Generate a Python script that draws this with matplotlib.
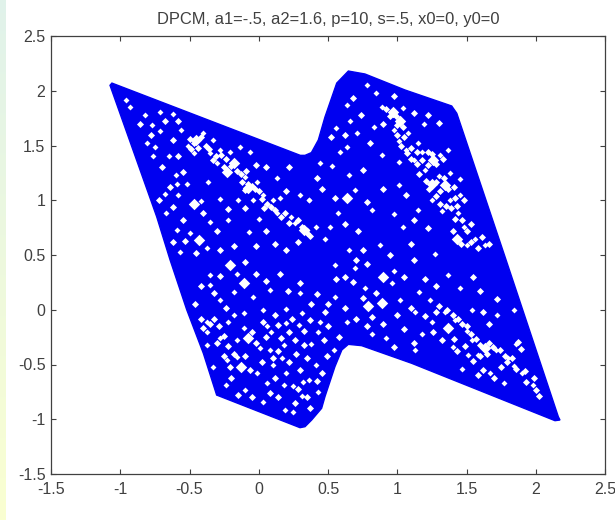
import numpy as np
import matplotlib
matplotlib.use("Agg")
import matplotlib.pyplot as plt
from matplotlib.patches import Polygon

plt.rcParams['font.family'] = ['Liberation Sans', 'DejaVu Sans']

title = "DPCM, a1=-.5, a2=1.6, p=10, s=.5, x0=0, y0=0"
tick_values = [-1.5, -1, -0.5, 0, 0.5, 1, 1.5, 2, 2.5]
tick_labels = ['-1.5', '-1', '-0.5', '0', '0.5', '1', '1.5', '2', '2.5']

# Outline of the solid point cloud
outline_x = [-1.06, 0.30, 0.334, 0.38, 0.43, 0.478, 0.563, 0.647, 0.767, 1.056, 1.393, 1.43,
             1.778, 2.163, 2.175, 2.139, 1.104, 0.743, 0.647, 0.60, 0.55, 0.478, 0.454,
             0.382, 0.334, 0.298, -0.304, -0.40, -0.52, -0.64, -0.737, -1.074]
outline_y = [2.07, 1.41, 1.41, 1.435, 1.55, 1.76, 2.07, 2.18, 2.153, 2.007, 1.861, 1.794,
             0.484, -0.977, -1.007, -1.013, -0.489, -0.328, -0.316, -0.367, -0.52, -0.794, -0.90,
             -1.007, -1.068, -1.077, -0.779, -0.398, 0.0, 0.454, 0.85, 2.05]

# Larger gaps in the cloud
gap_large_x = [-0.45, -0.18, -0.23, -0.075, 0.33, -0.47, -0.435, 0.97, 1.02, 1.26, 1.25, 1.345,
               1.43, 0.635, -0.21, -0.11, -0.075, -0.125, 0.90, 0.79, 0.89, 1.37, 1.63]
gap_large_y = [1.55, 1.34, 1.26, 1.11, 0.73, 0.97, 0.64, 1.81, 1.72, 1.37, 1.15, 1.14,
               0.65, 1.02, 0.41, 0.24, -0.26, -0.52, 0.30, 0.03, 0.06, -0.17, -0.35]

# Small gaps in the cloud
gap_small_x = [-0.96, -0.93, -0.82, -0.77, -0.71, -0.71, -0.62, -0.56, -0.51, -0.47, -0.40, -0.33,
               -0.35, -0.28, -0.21, -0.30, -0.135, -0.06, -0.10, -0.015, 0.03, -0.04, 0.105, 0.15,
               0.13, 0.23, 0.26, -0.81, -0.75, -0.76, -0.65, -0.60, -0.59, -0.52, -0.68, -0.58,
               -0.42, -0.28, -0.15, -0.35, -0.67, -0.50, -0.375, -0.59, -0.57, 0.0, -0.07, -0.22,
               -0.37, 0.13, 0.30, 0.36,
               0.78, 0.85, 0.635, 0.56, 0.66, 0.71, 0.83, 0.89, 1.04, 0.98, 1.08, 1.01, 1.06,
               1.15, 1.18, 1.12, 1.31, 1.37, 1.20, 1.38, 1.45, 1.30, 1.45, 1.38, 1.25, 1.32, 1.44,
               1.48, 1.56, 1.50, 1.63, 0.59, 0.635, 0.65, 0.695, 0.575, 1.01, 1.01, 0.89, 0.98,
               0.875, 0.41, 0.345, 0.515, 0.48, 1.15, 1.04, 1.19, 1.27, 0.65, 0.815, 0.36, 0.44, 0.53,
               -0.16, -0.35, -0.35, -0.18, -0.04, 0.08, -0.28, -0.375, -0.375, -0.22, -0.11, -0.18,
               -0.11, -0.16, -0.28, -0.375, 0.06, 0.09, 0.18, 0.03, 0.20, 0.31, 0.29, 0.20, -0.23,
               -0.16, -0.015, 0.10, 0.17, 0.20, 0.06, 0.18, 0.25, 0.31, 0.03, -0.10, -0.24, 0.19,
               0.25, 0.32, -0.33, 0.01, 0.08, 0.30,
               0.55, 0.695, 0.96, 0.765, 0.55, 0.44, 0.43, 0.38, 0.54, 0.41, 0.36, 0.43, 0.635,
               0.92, 0.815, 1.13, 1.02, 1.16, 1.13, 1.24, 1.345, 1.42, 1.50, 1.54, 1.71, 1.80,
               1.84, 1.90, 1.67, 1.585, 1.51, 1.40, 1.54, 1.72, 1.86, 1.98, 1.77, 1.25, 1.37,
               0.98, 1.45, 1.84, 1.47, 1.18]
gap_small_y = [1.92, 1.85, 1.78, 1.69, 1.63, 1.81, 1.79, 1.64, 1.50, 1.43, 1.61, 1.55,
               1.43, 1.46, 1.44, 1.34, 1.49, 1.44, 1.21, 1.17, 1.05, 1.00, 1.00, 1.02,
               0.88, 0.85, 0.79, 1.52, 1.49, 1.40, 1.40, 1.23, 1.15, 1.15, 1.06, 1.05,
               0.99, 1.01, 1.00, 0.80, 0.88, 0.70, 0.56, 0.73, 0.53, 0.83, 0.71, 0.82,
               1.17, 1.20, 1.05, 1.00,
               2.05, 1.98, 1.87, 1.66, 1.72, 1.61, 1.67, 1.85, 1.84, 1.64, 1.61, 1.54, 1.46,
               1.52, 1.44, 1.37, 1.41, 1.46, 1.28, 1.25, 1.19, 1.22, 1.05, 1.00, 1.00, 0.90, 0.88,
               0.76, 0.65, 0.59, 0.59, 1.44, 1.49, 1.23, 1.09, 0.88, 1.14, 1.35, 1.41, 0.87,
               0.59, 0.76, 0.73, 0.76, 0.65, 0.91, 0.76, 1.70, 0.51, 0.55, 0.91, 1.00, 1.34, 1.31,
               0.33, 0.32, 0.23, 0.16, 0.12, 0.18, 0.09, -0.11, -0.20, -0.11, -0.03, -0.05,
               -0.17, -0.28, -0.26, -0.32, -0.15, -0.20, -0.32, 0.00, 0.01, -0.03, -0.14, -0.12, -0.46,
               -0.43, -0.58, -0.50, -0.44, -0.58, -0.67, -0.69, -0.70, -0.79, -0.84, -0.73, -0.69, -0.92,
               -0.93, -0.66, -0.52, -0.35, -0.37, 0.15,
               0.41, 0.38, 0.24, 0.20, 0.12, -0.11, -0.20, -0.31, -0.37, -0.50, -0.64, -0.75, -0.11,
               -0.26, -0.22, -0.37, 0.09, 0.16, -0.02, 0.09, -0.02, -0.09, -0.19, -0.28, -0.37, -0.44,
               -0.51, -0.58, -0.58, -0.41, -0.41, -0.34, 0.00, -0.05, -0.31, -0.69, -0.67, -0.11, 0.32,
               0.35, 0.20, 0.00, -0.54, -0.22]

# Further gaps: the diagonal bands and scattered specks
gap_band_x = [-0.50, -0.47, -0.44, -0.49, -0.42, -0.38, -0.36, -0.31, -0.33, -0.27, -0.24, -0.20, -0.25,
              -0.16, -0.13, -0.09, -0.12, -0.08, -0.05, -0.10, -0.03, 0.0, 0.02, 0.06, 0.09, 0.04, 0.12,
              0.16, 0.19, 0.22, 0.28, 0.31, 0.35, 0.37,
              0.92, 0.95, 0.99, 1.0, 1.04, 1.0, 1.05, 1.03, 1.07, 1.10, 1.14, 1.10, 1.14, 1.18, 1.22,
              1.25, 1.22, 1.28, 1.33, 1.16, 1.21, 1.23, 1.28, 1.31, 1.34, 1.37, 1.41, 1.42, 1.28, 1.31,
              1.35, 1.39, 1.43, 1.48, 1.42, 1.47, 1.50, 1.53, 1.40, 1.46, 1.53, 1.58, 1.61, 1.66,
              1.30, 1.36, 1.40, 1.44, 1.47, 1.50, 1.53, 1.57, 1.60, 1.66, 1.69, 1.74, 1.78, 1.83, 1.79,
              1.86, 1.92, 1.75, 1.65, 1.60, 1.58, 1.62, 1.70, 1.93, 2.0, 1.99, 2.02, 1.87, 1.89, 1.41,
              1.43, 1.49, 1.55,
              -0.42, -0.35, -0.32, -0.40, -0.29, -0.25, -0.30, -0.22, -0.18, -0.25, -0.21, -0.10, -0.05,
              -0.02, 0.03, 0.05, 0.12, 0.14, 0.16, 0.22, 0.24, 0.26, 0.33, 0.37, 0.14, 0.10, 0.22, 0.27,
              0.33, 0.30, 0.35, 0.12, 0.02, -0.06, -0.20, -0.15, -0.05, 0.08, 0.14, 0.26, 0.28, 0.35,
              0.37, 0.42, 0.46, 0.49, 0.47, 0.50, 0.48, 0.38, 0.42, 0.30, 0.21, 0.15, 0.05, -0.02,
              -0.10, -0.28, -0.32, -0.42, -0.46, -0.24,
              0.70, 0.78, 0.62, 0.68, 0.75, 0.62, 0.70, 0.82, 0.90, 1.0, 1.05, 1.10, 1.20, 1.28, 1.26,
              1.32, 1.12, 0.98, 0.78, 0.85, 1.05, 1.20, 1.28, 1.55, 1.60, 1.72, 1.66, 1.62, 0.56, 0.50,
              0.58, 0.75, 0.95, 1.10, 1.22, 1.12, 0.72, 0.62, 0.55, 0.46, 0.42, 0.75, 0.90, 0.78, 1.06,
              1.12, 0.52, 0.62, 0.74, 0.80, 0.90, 1.22, 1.30, 1.12, 0.68, 0.98,
              -0.86, -0.68, -0.58, -0.78, -0.62, -0.58, -0.70, -0.64, -0.55, -0.72, -0.62, -0.55, -0.40,
              -0.22, -0.10, -0.30, -0.18, -0.28, -0.45, -0.53, -0.62, 0.05, 0.12, 0.20, 0.28, -0.02,
              0.20, 0.22, 0.05, -0.02]
gap_band_y = [1.56, 1.52, 1.48, 1.47, 1.58, 1.50, 1.47, 1.40, 1.37, 1.41, 1.38, 1.31, 1.30,
              1.27, 1.24, 1.27, 1.17, 1.15, 1.13, 1.09, 1.10, 1.08, 1.01, 0.97, 0.94, 0.93, 0.91,
              0.85, 0.88, 0.79, 0.82, 0.76, 0.70, 0.67,
              1.83, 1.77, 1.77, 1.69, 1.67, 1.60, 1.58, 1.50, 1.43, 1.48, 1.44, 1.38, 1.33, 1.37, 1.44,
              1.42, 1.32, 1.33, 1.38, 1.24, 1.18, 1.10, 1.17, 1.08, 1.20, 1.10, 1.12, 1.02, 1.04, 0.97,
              0.95, 0.93, 0.95, 1.00, 0.83, 0.82, 0.72, 0.78, 0.72, 0.60, 0.62, 0.56, 0.66, 0.60,
              0.03, 0.0, -0.05, -0.08, -0.13, -0.15, -0.22, -0.27, -0.32, -0.30, -0.34, -0.37, -0.42, -0.44, -0.48,
              -0.54, -0.56, -0.52, -0.40, -0.42, -0.60, -0.55, -0.62, -0.66, -0.73, -0.62, -0.79, -0.29, -0.36, -0.27,
              -0.38, -0.33, -0.47,
              -0.08, -0.13, -0.08, -0.17, -0.15, -0.24, -0.30, -0.33, -0.40, -0.42, -0.52, -0.42, -0.20,
              -0.30, -0.11, -0.25, -0.05, -0.14, -0.26, -0.20, -0.08, -0.28, -0.19, -0.09, -0.38, -0.44, -0.48, -0.40,
              -0.32, -0.55, -0.44, -0.62, -0.48, -0.55, -0.62, -0.78, -0.80, -0.76, -0.80, -0.85, -0.72, -0.80,
              -0.90, -0.65, -0.58, -0.42, -0.28, -0.15, -0.02, 0.05, 0.14, 0.24, 0.17, 0.33, 0.26, 0.33,
              0.44, 0.31, 0.15, 0.22, 0.05, 0.02,
              0.45, 0.42, 0.30, 0.25, 0.11, 0.02, -0.08, -0.07, -0.13, -0.05, -0.18, 0.02, -0.06, -0.02, -0.20,
              -0.28, -0.30, -0.34, -0.15, 0.15, 0.30, 0.28, 0.22, 0.30, 0.17, 0.10, -0.13, -0.02, 0.28, 0.05,
              -0.25, 0.55, 0.50, 0.60, 0.75, 0.45, 0.72, 0.78, 1.02, 1.10, 1.20, 1.28, 1.10, 0.98, 1.05,
              0.82, 1.58, 1.60, 1.78, 1.52, 1.70, 1.78, 1.71, 1.80, 1.93, 1.95,
              1.70, 1.72, 1.72, 1.60, 1.55, 1.40, 1.30, 1.12, 1.26, 1.00, 0.94, 0.82, 0.88,
              0.92, 0.93, 0.72, 0.58, 0.55, 0.52, 0.63, 0.62, 0.72, 0.60, 0.55, 0.62, 0.58,
              1.08, 1.30, 1.30, 1.32]

W, H = 615, 520
fig = plt.figure(figsize=(W / 100, H / 100), dpi=100, facecolor='white')

# Pale gradient strip at the left edge of the picture
strip = fig.add_axes([0, 0, 5 / W, 1])
grad = np.linspace(0, 1, 256)[:, None, None]
top_c = np.array([0.88, 0.95, 0.92])[None, None, :]
bot_c = np.array([0.98, 1.00, 0.82])[None, None, :]
strip.imshow(top_c * (1 - grad) + bot_c * grad, aspect='auto')
strip.axis('off')

ax = fig.add_axes([51 / W, (H - 474) / H, 554 / W, 438 / H])
ax.set_xlim(-1.5, 2.5)
ax.set_ylim(-1.5, 2.5)
ax.add_patch(Polygon(np.column_stack([outline_x, outline_y]), closed=True,
                     facecolor='#0000f0', edgecolor='#0000f0', linewidth=1))
ax.scatter(gap_large_x, gap_large_y, s=34, marker='D', c='white', linewidths=0, zorder=3)
ax.scatter(gap_small_x, gap_small_y, s=9, marker='D', c='white', linewidths=0, zorder=3)
ax.scatter(gap_band_x, gap_band_y, s=13, marker='D', c='white', linewidths=0, zorder=3)

grey = '#404040'
ax.set_xticks(tick_values)
ax.set_xticklabels(tick_labels)
ax.set_yticks(tick_values)
ax.set_yticklabels(tick_labels)
ax.tick_params(direction='in', length=3.6, width=0.8, color=grey, labelcolor=grey,
               labelsize=11.5, top=True, right=True)
ax.tick_params(axis='x', pad=5.5)
ax.tick_params(axis='y', pad=4)
for s in ax.spines.values():
    s.set_color(grey)
    s.set_linewidth(0.9)
ax.set_title(title, fontsize=11.9, color=grey, pad=8.5)

fig.savefig('out.png', dpi=100)
